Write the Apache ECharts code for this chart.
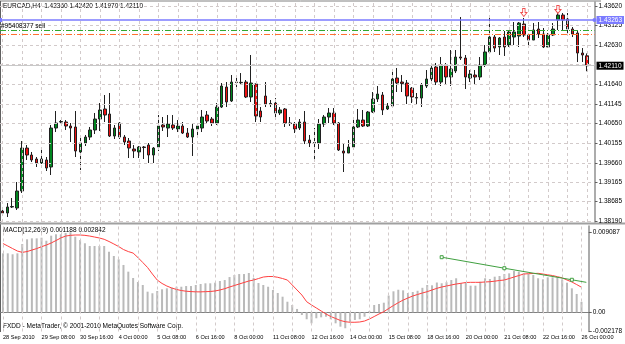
<!DOCTYPE html>
<html>
<head>
    <title></title>
    <meta charset="UTF-8">
    <script src="https://cdn.jsdelivr.net/npm/echarts@6/dist/echarts.min.js"></script>
</head>
<style type="text/css">
    html, body {
        margin: 0;
        padding: 0;
        background: #fff;
    }
    #main {
        width: 625px;
        height: 344px;
    }
</style>
<body>
    <div id="main"></div>
</body>
<script>
    var symbolName = 'EURCAD,H4';
    // one row per H4 bar: [open, close, low, high]
    var candles = [
        [1.38442,1.38392,1.38316,1.38518],[1.38392,1.38543,1.38291,1.38644],[1.38543,1.38556,1.38518,1.38770],
        [1.38518,1.38947,1.38468,1.39174],[1.38947,1.40032,1.38897,1.40209],[1.40032,1.39856,1.39730,1.40108],
        [1.39856,1.39730,1.39679,1.39932],[1.39755,1.39654,1.39553,1.39805],[1.39654,1.39755,1.39629,1.40032],
        [1.39730,1.39528,1.39452,1.39805],[1.39553,1.40537,1.39351,1.40613],[1.40537,1.40663,1.40436,1.40966],
        [1.40689,1.40700,1.40638,1.40739],[1.40689,1.40588,1.40487,1.40739],[1.40588,1.40537,1.40184,1.40663],
        [1.40563,1.39957,1.39805,1.40966],[1.39932,1.40159,1.39477,1.40285],[1.40159,1.40310,1.40083,1.40361],
        [1.40310,1.40487,1.40234,1.40563],[1.40487,1.40764,1.40386,1.40916],[1.40764,1.40992,1.40462,1.41168],
        [1.41017,1.40865,1.40689,1.41370],[1.40891,1.40335,1.40310,1.41421],[1.40335,1.40537,1.40260,1.40613],
        [1.40663,1.40310,1.40260,1.40689],[1.40310,1.40184,1.40108,1.40361],[1.40209,1.40032,1.39780,1.40285],
        [1.40007,1.39957,1.39780,1.40108],[1.39932,1.40058,1.39780,1.40083],[1.40058,1.40045,1.39755,1.40083],
        [1.40108,1.39856,1.39654,1.40159],[1.39856,1.40032,1.39654,1.40058],[1.40058,1.40588,1.39957,1.40865],
        [1.40613,1.40563,1.40462,1.40815],[1.40537,1.40638,1.40310,1.40865],[1.40613,1.40537,1.40487,1.40865],
        [1.40512,1.40588,1.40436,1.40739],[1.40588,1.40411,1.40386,1.40689],[1.40411,1.40310,1.40285,1.40537],
        [1.40310,1.40512,1.39831,1.40663],[1.40512,1.40588,1.40310,1.40663],[1.40537,1.40815,1.40436,1.40992],
        [1.40865,1.40714,1.40663,1.40966],[1.40764,1.40663,1.40588,1.40815],[1.40663,1.41067,1.40613,1.41168],
        [1.41067,1.41597,1.41042,1.41673],[1.41572,1.41194,1.41067,1.41698],[1.41219,1.41698,1.41194,1.41875],
        [1.41698,1.41686,1.41572,1.41875],[1.41680,1.41690,1.41623,1.41925],[1.41698,1.41320,1.41294,1.41749],
        [1.41320,1.41673,1.41194,1.42380],[1.41648,1.40840,1.40689,1.41660],[1.40966,1.40815,1.40689,1.41067],
        [1.41345,1.41143,1.41067,1.41698],[1.41143,1.41155,1.41067,1.41244],[1.41168,1.40916,1.40815,1.41294],
        [1.40916,1.40992,1.40865,1.41067],[1.41017,1.40663,1.40563,1.41042],[1.40663,1.40650,1.40588,1.40815],
        [1.40638,1.40512,1.40411,1.40689],[1.40537,1.40689,1.40487,1.40764],[1.40689,1.40209,1.40133,1.40966],
        [1.40234,1.40159,1.40058,1.40361],[1.40159,1.40171,1.39730,1.40537],[1.40159,1.40638,1.40007,1.40764],
        [1.40638,1.40815,1.40563,1.40865],[1.40815,1.40916,1.40663,1.41042],[1.40916,1.40663,1.40613,1.41042],
        [1.40663,1.39982,1.39957,1.40689],[1.39957,1.39906,1.39427,1.40159],[1.39906,1.40058,1.39906,1.40234],
        [1.40058,1.40563,1.40032,1.40815],[1.40563,1.40739,1.40537,1.41017],[1.40739,1.40588,1.40563,1.40992],
        [1.40588,1.40941,1.40563,1.40966],[1.40941,1.41269,1.40916,1.41446],[1.41269,1.41395,1.41194,1.41597],
        [1.41370,1.40992,1.40865,1.41446],[1.41017,1.41093,1.40992,1.41168],[1.41093,1.41774,1.41067,1.42001],
        [1.41799,1.41673,1.41446,1.42052],[1.41698,1.41660,1.41446,1.41875],[1.41673,1.41345,1.41143,1.41749],
        [1.41547,1.41320,1.41168,1.41572],[1.41294,1.41307,1.41118,1.41421],[1.41294,1.41623,1.41067,1.41673],
        [1.41597,1.41774,1.41547,1.42001],[1.41774,1.42052,1.41698,1.42102],[1.42077,1.41698,1.41623,1.42178],
        [1.41698,1.42127,1.41597,1.42329],[1.42127,1.41825,1.41623,1.42178],[1.41825,1.42026,1.41597,1.42506],
        [1.41976,1.42329,1.41925,1.42506],[1.42329,1.42304,1.42254,1.43339],[1.42304,1.41825,1.41522,1.42380],
        [1.41799,1.41900,1.41698,1.42001],[1.41875,1.41825,1.41623,1.42001],[1.41825,1.42127,1.41749,1.42329],
        [1.42127,1.42456,1.42077,1.42632],[1.42456,1.42834,1.42430,1.43339],[1.42834,1.42556,1.42456,1.42885],
        [1.42582,1.42809,1.42380,1.42834],[1.42834,1.42582,1.42355,1.42986],[1.42632,1.42960,1.42582,1.43011],
        [1.42834,1.42960,1.42632,1.43213],[1.42859,1.43187,1.42582,1.43213],[1.43162,1.42885,1.42834,1.43314],
        [1.42885,1.42758,1.42582,1.42935],[1.42758,1.43011,1.42758,1.43187],[1.43036,1.42910,1.42809,1.43213],
        [1.42910,1.42582,1.42556,1.43061],[1.42582,1.42885,1.42582,1.42935],[1.42885,1.43036,1.42859,1.43187],
        [1.43263,1.43389,1.43011,1.43440],[1.43389,1.43263,1.43011,1.43440],[1.43288,1.43036,1.42935,1.43440],
        [1.43036,1.42910,1.42834,1.43087],[1.42935,1.42430,1.42203,1.43011],[1.42430,1.42380,1.42203,1.42556],
        [1.42360,1.42110,1.41970,1.42420]
    ];
    var macdMain = [
        0.00669,0.00669,0.00658,0.00669,0.00775,0.00828,0.00839,0.00839,0.00846,0.00812,
        0.00869,0.00885,0.00885,0.00900,0.00908,0.00858,0.00820,0.00783,0.00752,0.00752,
        0.00752,0.00752,0.00687,0.00639,0.00601,0.00537,0.00461,0.00389,0.00344,0.00310,
        0.00234,0.00216,0.00242,0.00261,0.00272,0.00279,0.00290,0.00290,0.00298,0.00298,
        0.00310,0.00321,0.00329,0.00329,0.00336,0.00355,0.00366,0.00400,0.00423,0.00434,
        0.00434,0.00446,0.00389,0.00332,0.00310,0.00290,0.00253,0.00219,0.00177,0.00120,
        0.00083,0.00038,-0.00031,-0.00079,-0.00125,-0.00068,-0.00057,-0.00050,-0.00079,-0.00125,
        -0.00163,-0.00181,-0.00107,-0.00087,-0.00079,-0.00050,0.00015,0.00083,0.00094,0.00109,
        0.00190,0.00238,0.00256,0.00249,0.00219,0.00230,0.00244,0.00278,0.00310,0.00306,
        0.00338,0.00329,0.00341,0.00366,0.00386,0.00329,0.00340,0.00302,0.00302,0.00347,
        0.00386,0.00378,0.00404,0.00412,0.00434,0.00442,0.00469,0.00461,0.00442,0.00434,
        0.00423,0.00386,0.00374,0.00397,0.00397,0.00397,0.00374,0.00336,0.00272,0.00208,
        0.001188
    ];
    var macdSignal = [
        0.00780,0.00752,0.00723,0.00695,0.00680,0.00689,0.00706,0.00723,0.00744,0.00763,
        0.00786,0.00814,0.00843,0.00865,0.00873,0.00877,0.00877,0.00873,0.00865,0.00854,
        0.00843,0.00828,0.00803,0.00775,0.00746,0.00712,0.00689,0.00672,0.00621,0.00565,
        0.00508,0.00434,0.00366,0.00327,0.00298,0.00276,0.00259,0.00247,0.00239,0.00235,
        0.00232,0.00232,0.00234,0.00236,0.00242,0.00253,0.00268,0.00287,0.00304,0.00321,
        0.00338,0.00355,0.00366,0.00383,0.00400,0.00406,0.00406,0.00397,0.00383,0.00366,
        0.00310,0.00253,0.00196,0.00120,0.00083,0.00049,0.00015,-0.00019,-0.00048,-0.00070,
        -0.00093,-0.00107,-0.00113,-0.00113,-0.00110,-0.00099,-0.00076,-0.00048,-0.00019,0.00007,
        0.00043,0.00077,0.00109,0.00139,0.00162,0.00185,0.00202,0.00219,0.00234,0.00253,
        0.00272,0.00287,0.00298,0.00310,0.00321,0.00329,0.00338,0.00340,0.00340,0.00340,
        0.00344,0.00347,0.00353,0.00361,0.00366,0.00383,0.00400,0.00417,0.00434,0.00438,
        0.00440,0.00442,0.00434,0.00425,0.00417,0.00404,0.00391,0.00366,0.00344,0.00315,
        0.002842
    ];
    var priceTicks = [1.43620, 1.43125, 1.42630, 1.41640, 1.41145, 1.40650, 1.40155, 1.39660, 1.39165, 1.38685, 1.38190];
    var priceGridLevels = [1.43620, 1.43125, 1.42630, 1.42135, 1.41640, 1.41145, 1.40650, 1.40155, 1.39660, 1.39165, 1.38685, 1.38190];
    var macdTicks = [0.009087, 0, -0.002178];
    var macdTickLabels = ['0.009087', '0.00', '-0.002178'];
    var dateLabels = ['28 Sep 2010', '29 Sep 08:00', '30 Sep 16:00', '4 Oct 00:00', '5 Oct 08:00', '6 Oct 16:00',
        '8 Oct 00:00', '11 Oct 08:00', '12 Oct 16:00', '14 Oct 00:00', '15 Oct 08:00', '18 Oct 16:00',
        '20 Oct 00:00', '21 Oct 08:00', '22 Oct 16:00', '26 Oct 00:00'];
    var trendPoints = [[91, 0.00625], [104, 0.00500], [118, 0.00369], [121, 0.00340]];
    var arrowMarks = [[107, 1.43452], [114, 1.43528]];
    var blueLevel = 1.43263;
    var sellLevel = 1.43003;
    var stopLevel = 1.42910;
    var orderText = '#95408377 sell';

    var FONT = "'Liberation Sans', Arial, sans-serif";
    var months = ['Jan','Feb','Mar','Apr','May','Jun','Jul','Aug','Sep','Oct','Nov','Dec'];

    // H4 bar times, weekdays only (one spare slot on the right)
    var times = [];
    var t = Date.UTC(2010, 8, 28, 0);
    while (times.length < candles.length + 1) {
        var d = new Date(t);
        var wd = d.getUTCDay();
        if (wd !== 0 && wd !== 6) {
            var h = d.getUTCHours();
            times.push(d.getUTCDate() + ' ' + months[d.getUTCMonth()] + ' ' + (h < 10 ? '0' : '') + h + ':00');
        }
        t += 4 * 3600 * 1000;
    }

    var vLines = [];
    for (var i = 0; i < times.length; i += 4) vLines.push({ xAxis: i });
    var hLines = priceGridLevels.map(function (v) { return { yAxis: v }; });
    var last = candles[candles.length - 1];
    var gridStyle = { color: '#d2caca', type: [3, 3], width: 1 };

    var myChart = echarts.init(document.getElementById('main'));
    var option = {
        animation: false,
        backgroundColor: '#fff',
        textStyle: { fontFamily: FONT, fontSize: 6.5, color: '#000' },
        grid: [
            { left: 0, top: 2, width: 600, height: 220 },
            { left: 0, top: 226, width: 600, height: 105.5 }
        ],
        xAxis: [
            { type: 'category', gridIndex: 0, data: times, boundaryGap: true,
              axisLine: { show: false }, axisTick: { show: false }, axisLabel: { show: false }, splitLine: { show: false } },
            { type: 'category', gridIndex: 1, data: times, boundaryGap: true,
              axisLine: { lineStyle: { color: '#808080', width: 1 } },
              axisTick: { alignWithLabel: true, length: 3, interval: function (idx) { return idx % 8 === 0; }, lineStyle: { color: '#606060' } },
              axisLabel: { align: 'left', margin: 3, fontSize: 5.6, color: '#000', fontFamily: FONT,
                  interval: function (idx) { return idx % 8 === 0; },
                  formatter: function (v, idx) { return dateLabels[idx / 8] || ''; } },
              splitLine: { show: false } }
        ],
        yAxis: [
            { type: 'value', gridIndex: 0, position: 'right', min: 1.38165, max: 1.43718,
              axisLine: { show: true, lineStyle: { color: '#909090', width: 1.5 } },
              axisTick: { show: true, length: 3, customValues: priceTicks, lineStyle: { color: '#606060' } },
              axisLabel: { customValues: priceTicks, margin: 4, fontSize: 6.5, color: '#000', fontFamily: FONT,
                  formatter: function (v) { return v.toFixed(5); } },
              splitLine: { show: false } },
            { type: 'value', gridIndex: 1, position: 'right', min: -0.002178, max: 0.00979,
              axisLine: { show: true, lineStyle: { color: '#909090', width: 1.5 } },
              axisTick: { show: true, length: 3, customValues: macdTicks, lineStyle: { color: '#606060' } },
              axisLabel: { customValues: macdTicks, margin: 4, fontSize: 6.5, color: '#000', fontFamily: FONT,
                  formatter: function (v) { return macdTickLabels[macdTicks.indexOf(v)]; } },
              splitLine: { show: false } }
        ],
        series: [
            { type: 'line', xAxisIndex: 0, yAxisIndex: 0, data: [], z: 1, silent: true,
              markLine: { silent: true, precision: 6, symbol: 'none', label: { show: false }, lineStyle: gridStyle, data: vLines.concat(hLines) } },
            { type: 'line', xAxisIndex: 1, yAxisIndex: 1, data: [], z: 1, silent: true,
              markLine: { silent: true, precision: 6, symbol: 'none', label: { show: false }, lineStyle: gridStyle, data: vLines } },
            { type: 'line', xAxisIndex: 0, yAxisIndex: 0, data: [], z: 2, silent: true,
              markLine: { silent: true, precision: 6, symbol: 'none',
                  data: [
                      { yAxis: last[1], lineStyle: { color: '#c8c8c8', type: 'solid', width: 1 },
                        label: { show: true, position: 'end', distance: 2, formatter: last[1].toFixed(5),
                            backgroundColor: '#000', color: '#fff', padding: [1, 2, 0, 2], fontSize: 6.5, fontFamily: FONT } },
                      { yAxis: stopLevel, lineStyle: { color: '#ff7030', type: [6, 2, 1, 2], width: 1 }, label: { show: false } },
                      { yAxis: sellLevel, lineStyle: { color: '#30a830', type: [6, 2, 1, 2], width: 1 },
                        label: { show: true, position: 'insideStartTop', distance: 1, formatter: orderText,
                            color: '#000', fontSize: 6.5, fontFamily: FONT } }
                  ] } },
            { type: 'line', xAxisIndex: 0, yAxisIndex: 0, data: [], z: 2, silent: true,
              markLine: { silent: true, precision: 6, symbol: ['rect', 'circle'], symbolSize: 4,
                  lineStyle: { color: '#7b7bff', type: 'solid', width: 1.5 },
                  label: { show: true, position: 'end', distance: 2, formatter: blueLevel.toFixed(5),
                      backgroundColor: '#7b7bff', color: '#fff', padding: [1, 2, 0, 2], fontSize: 6.5, fontFamily: FONT },
                  data: [{ yAxis: blueLevel }] } },
            { type: 'candlestick', xAxisIndex: 0, yAxisIndex: 0, data: candles, barWidth: 3, z: 4,
              itemStyle: { color: '#00861f', color0: '#ee1111', borderColor: '#202020', borderColor0: '#202020', borderWidth: 1 },
              markPoint: { silent: true, symbol: 'path://M3,0 L7,0 L7,6 L10,6 L5,12 L0,6 L3,6 Z', symbolSize: [6, 8],
                  itemStyle: { color: '#fff', borderColor: '#f05050', borderWidth: 1 }, label: { show: false },
                  data: arrowMarks.map(function (a) { return { coord: a }; }) } },
            { type: 'bar', xAxisIndex: 1, yAxisIndex: 1, data: macdMain, barWidth: 2, z: 3,
              itemStyle: { color: '#bababa' } },
            { type: 'line', xAxisIndex: 1, yAxisIndex: 1, data: macdSignal, z: 4, symbol: 'none',
              lineStyle: { color: '#ff4040', width: 1 } },
            { type: 'line', xAxisIndex: 1, yAxisIndex: 1, z: 5, symbol: 'rect', symbolSize: 3, showAllSymbol: true,
              itemStyle: { color: '#fff', borderColor: '#40a040', borderWidth: 1 },
              lineStyle: { color: '#40a040', width: 1 },
              data: trendPoints.map(function (p, k) {
                  return k === trendPoints.length - 1 ? { value: p, symbol: 'none' } : p;
              }) }
        ],
        graphic: [
            { type: 'line', shape: { x1: 0, y1: 1, x2: 601, y2: 1 }, style: { stroke: '#808080', lineWidth: 1 } },
            { type: 'line', shape: { x1: 0.5, y1: 1, x2: 0.5, y2: 332 }, style: { stroke: '#606060', lineWidth: 1 } },
            { type: 'line', shape: { x1: 0, y1: 223.5, x2: 625, y2: 223.5 }, style: { stroke: '#a0a0a0', lineWidth: 2 } },
            { type: 'text', left: 3, top: 2.5, style: { text: symbolName + '  ' + last[0].toFixed(5) + ' ' + last[3].toFixed(5) + ' ' + last[2].toFixed(5) + ' ' + last[1].toFixed(5),
                font: '6.5px ' + FONT, fill: '#000' } },
            { type: 'text', left: 3, top: 226.5, style: { text: 'MACD(12,26,9) ' + macdMain[macdMain.length - 1].toFixed(6) + ' ' + macdSignal[macdSignal.length - 1].toFixed(6),
                font: '6.5px ' + FONT, fill: '#000' } },
            { type: 'text', left: 3, top: 323, style: { text: 'FXDD - MetaTrader, \u00a9 2001-2010 MetaQuotes Software Corp.',
                font: '6.5px ' + FONT, fill: '#000' } }
        ]
    };
    myChart.setOption(option);
</script>
</html>
